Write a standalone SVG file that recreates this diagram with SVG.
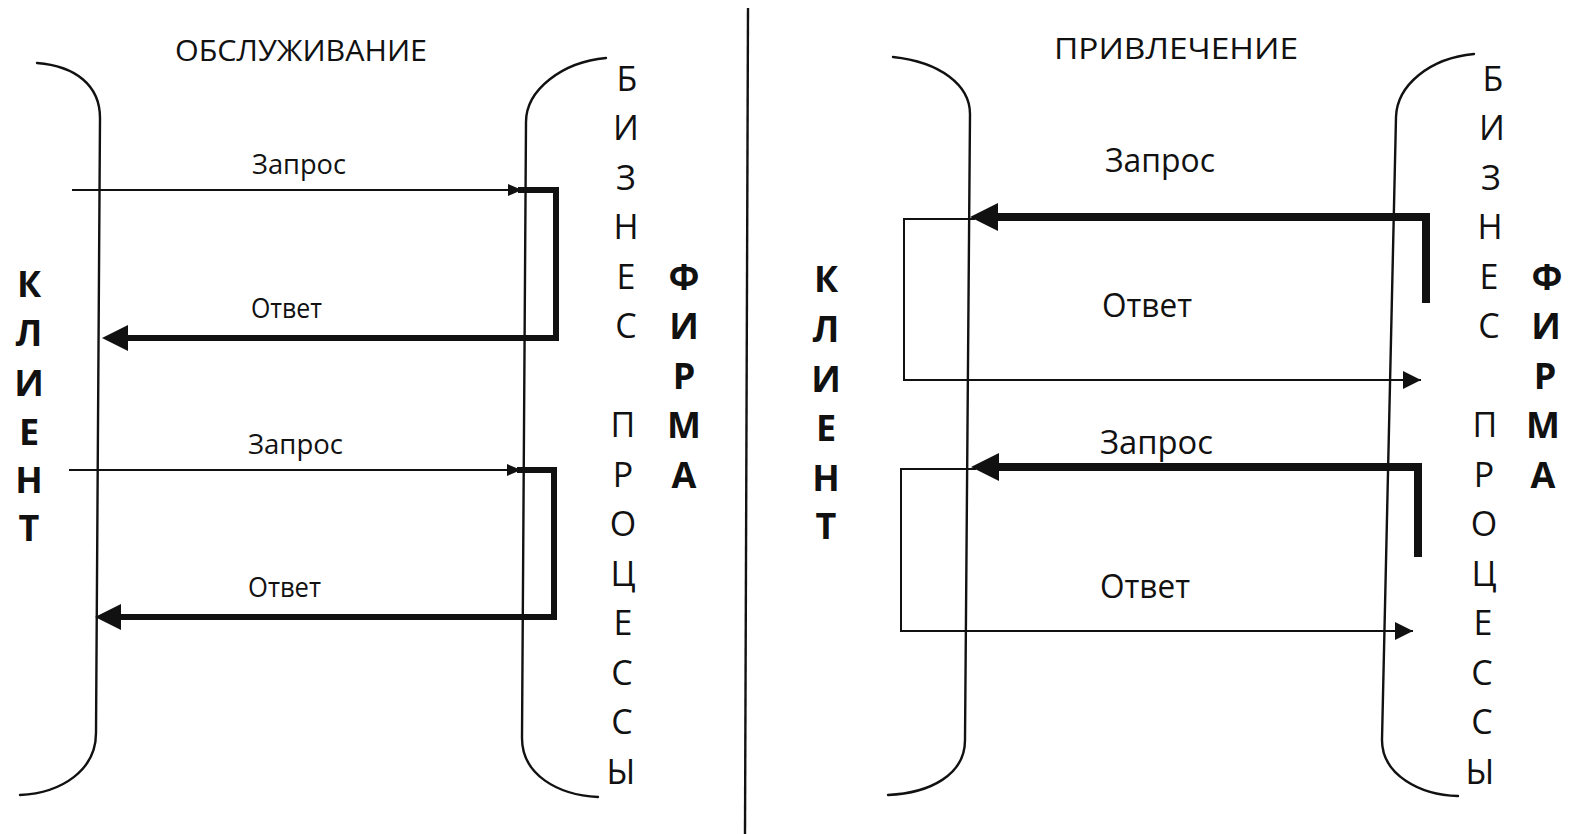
<svg xmlns="http://www.w3.org/2000/svg" width="1570" height="834" viewBox="0 0 1570 834">
<style>
.bg{fill:#fff}
.br{stroke:#111;stroke-width:2.4;fill:none;stroke-linecap:round}
.div{stroke:#111;stroke-width:2.4;fill:none}
.thin{stroke:#111;stroke-width:2;fill:none}
.thickL{stroke:#111;stroke-width:6;fill:none;stroke-linejoin:miter}
.thickR{stroke:#111;stroke-width:8;fill:none;stroke-linejoin:miter}
.title{font-family:"Open Sans","Noto Sans",sans-serif;font-size:29px;fill:#111}
.lblL{font-family:"Open Sans","Noto Sans",sans-serif;font-size:28px;fill:#111}
.lblR{font-family:"Open Sans","Noto Sans",sans-serif;font-size:32px;fill:#111}
.vt{font-family:"Open Sans","Noto Sans",sans-serif;font-size:34px;fill:#111;text-anchor:middle}
.vb{font-family:"Open Sans","Noto Sans",sans-serif;font-size:36px;font-weight:bold;fill:#111;text-anchor:middle}
</style>
<defs>
<marker id="ahS" markerUnits="userSpaceOnUse" markerWidth="16" markerHeight="14" refX="14" refY="6" orient="auto"><path d="M0,0 L14,6 L0,12 z" fill="#111"/></marker>
<marker id="ahM" markerUnits="userSpaceOnUse" markerWidth="20" markerHeight="20" refX="18" refY="9" orient="auto"><path d="M0,0 L18,9 L0,18 z" fill="#111"/></marker>
<marker id="ahL" markerUnits="userSpaceOnUse" markerWidth="28" markerHeight="28" refX="6" refY="13" orient="auto"><path d="M0,0 L26,13 L0,26 z" fill="#111"/></marker>
<marker id="ahX" markerUnits="userSpaceOnUse" markerWidth="30" markerHeight="30" refX="6" refY="14" orient="auto"><path d="M0,0 L28,14 L0,28 z" fill="#111"/></marker>
</defs>
<rect class="bg" x="0" y="0" width="1570" height="834"/>

<line id="divider" class="div" x1="748" y1="8" x2="745" y2="834"/>

<g id="left-panel">
  <text class="title" x="175" y="61" textLength="252" lengthAdjust="spacingAndGlyphs">ОБСЛУЖИВАНИЕ</text>
  <g id="left-client">
    <path class="br" d="M37,63 C75,66 100,85 100,118 L96,733 C96,770 62,793 20,795"/>
    <text class="vb" x="29" y="297">К</text>
    <text class="vb" x="29" y="346">Л</text>
    <text class="vb" x="29" y="396">И</text>
    <text class="vb" x="29" y="445">Е</text>
    <text class="vb" x="29" y="493">Н</text>
    <text class="vb" x="29" y="541">Т</text>
  </g>
  <g id="left-business">
    <path class="br" d="M606,58 C562,62 526,90 526,122 L522,738 C522,775 558,795 598,797"/>
    <text class="vt" x="627" y="91">Б</text>
    <text class="vt" x="626" y="140">И</text>
    <text class="vt" x="626" y="190">З</text>
    <text class="vt" x="626" y="239">Н</text>
    <text class="vt" x="626" y="289">Е</text>
    <text class="vt" x="626" y="338">С</text>
    <text class="vt" x="623" y="437">П</text>
    <text class="vt" x="623" y="487">Р</text>
    <text class="vt" x="623" y="536">О</text>
    <text class="vt" x="623" y="586">Ц</text>
    <text class="vt" x="623" y="635">Е</text>
    <text class="vt" x="622" y="685">С</text>
    <text class="vt" x="622" y="734">С</text>
    <text class="vt" x="621" y="784">Ы</text>
  </g>
  <g id="left-firm">
    <text class="vb" x="684" y="290">Ф</text>
    <text class="vb" x="684" y="339">И</text>
    <text class="vb" x="684" y="389">Р</text>
    <text class="vb" x="684" y="438">М</text>
    <text class="vb" x="684" y="488">А</text>
  </g>
  <g id="left-labels">
    <text class="lblL" x="252" y="174" textLength="94" lengthAdjust="spacingAndGlyphs">Запрос</text>
    <text class="lblL" x="251" y="318" textLength="71" lengthAdjust="spacingAndGlyphs">Ответ</text>
    <text class="lblL" x="248" y="454" textLength="95" lengthAdjust="spacingAndGlyphs">Запрос</text>
    <text class="lblL" x="248" y="597" textLength="73" lengthAdjust="spacingAndGlyphs">Ответ</text>
  </g>
</g>

<g id="right-panel">
  <text class="title" x="1054" y="59" textLength="244" lengthAdjust="spacingAndGlyphs">ПРИВЛЕЧЕНИЕ</text>
  <g id="right-client">
    <path class="br" d="M893,57 C940,62 970,85 970,114 L965,740 C965,775 930,793 888,795"/>
    <text class="vb" x="826" y="292">К</text>
    <text class="vb" x="826" y="342">Л</text>
    <text class="vb" x="826" y="392">И</text>
    <text class="vb" x="826" y="441">Е</text>
    <text class="vb" x="826" y="491">Н</text>
    <text class="vb" x="826" y="539">Т</text>
  </g>
  <g id="right-business">
    <path class="br" d="M1474,54 C1430,58 1397,85 1396,117 L1382,740 C1382,775 1420,795 1458,796"/>
    <text class="vt" x="1493" y="91">Б</text>
    <text class="vt" x="1492" y="140">И</text>
    <text class="vt" x="1491" y="190">З</text>
    <text class="vt" x="1490" y="239">Н</text>
    <text class="vt" x="1489" y="289">Е</text>
    <text class="vt" x="1489" y="338">С</text>
    <text class="vt" x="1485" y="437">П</text>
    <text class="vt" x="1484" y="487">Р</text>
    <text class="vt" x="1484" y="536">О</text>
    <text class="vt" x="1484" y="586">Ц</text>
    <text class="vt" x="1483" y="635">Е</text>
    <text class="vt" x="1482" y="685">С</text>
    <text class="vt" x="1482" y="734">С</text>
    <text class="vt" x="1480" y="784">Ы</text>
  </g>
  <g id="right-firm">
    <text class="vb" x="1547" y="290">Ф</text>
    <text class="vb" x="1546" y="339">И</text>
    <text class="vb" x="1545" y="389">Р</text>
    <text class="vb" x="1543" y="438">М</text>
    <text class="vb" x="1543" y="488">А</text>
  </g>
  <g id="right-labels">
    <text class="lblR" x="1105" y="172" textLength="110" lengthAdjust="spacingAndGlyphs">Запрос</text>
    <text class="lblR" x="1102" y="317" textLength="90" lengthAdjust="spacingAndGlyphs">Ответ</text>
    <text class="lblR" x="1100" y="454" textLength="113" lengthAdjust="spacingAndGlyphs">Запрос</text>
    <text class="lblR" x="1100" y="598" textLength="90" lengthAdjust="spacingAndGlyphs">Ответ</text>
  </g>
</g>

<g id="connectors">
  <path class="thin" d="M72,190 H522" marker-end="url(#ahS)"/>
  <path class="thickL" d="M518,190 H556 V338 H122" marker-end="url(#ahL)"/>
  <path class="thin" d="M69,470 H521" marker-end="url(#ahS)"/>
  <path class="thickL" d="M517,470 H554 V617 H115" marker-end="url(#ahL)"/>

  <path class="thickR" d="M1426,303 V217 H992" marker-end="url(#ahX)"/>
  <path class="thin" d="M975,219 H904 V380 H1421" marker-end="url(#ahM)"/>
  <path class="thickR" d="M1418,557 V467 H993" marker-end="url(#ahX)"/>
  <path class="thin" d="M976,469 H901 V631 H1413" marker-end="url(#ahM)"/>
</g>
</svg>
